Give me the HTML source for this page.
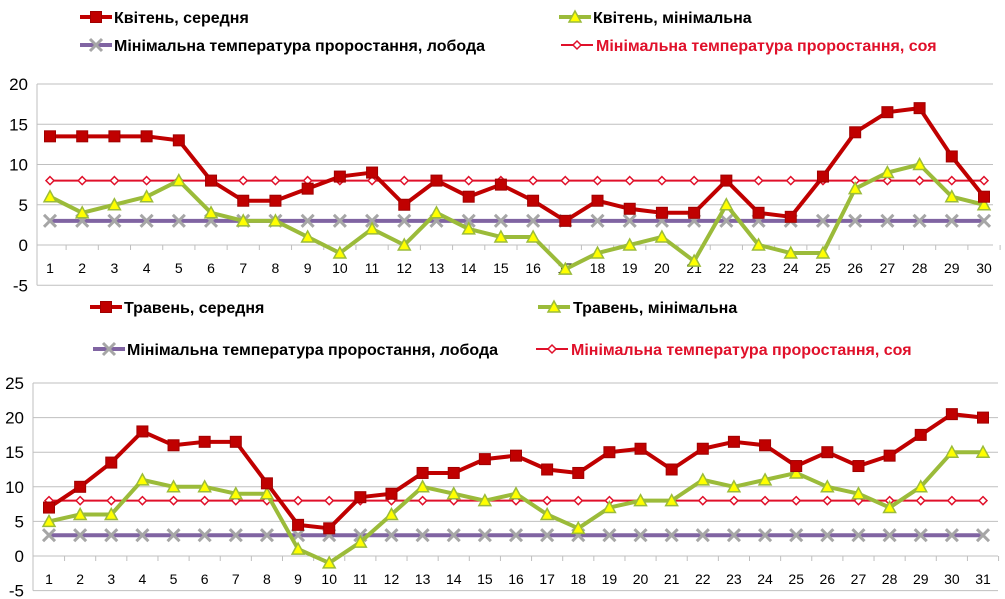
<!DOCTYPE html>
<html><head><meta charset="utf-8">
<style>
html,body{margin:0;padding:0;background:#fff;}
svg{display:block;font-family:"Liberation Sans","DejaVu Sans",sans-serif;}
</style></head>
<body>
<svg id="c" width="1005" height="599" viewBox="0 0 1005 599" xmlns="http://www.w3.org/2000/svg"></svg>
<script>
const aprilDays = Array.from({length:30},(_,i)=>String(i+1));
const aprilAvg = [13.5,13.5,13.5,13.5,13,8,5.5,5.5,7,8.5,9,5,8,6,7.5,5.5,3,5.5,4.5,4,4,8,4,3.5,8.5,14,16.5,17,11,6];
const aprilMin = [6,4,5,6,8,4,3,3,1,-1,2,0,4,2,1,1,-3,-1,0,1,-2,5,0,-1,-1,7,9,10,6,5];
const mayDays = Array.from({length:31},(_,i)=>String(i+1));
const mayAvg = [7,10,13.5,18,16,16.5,16.5,10.5,4.5,4,8.5,9,12,12,14,14.5,12.5,12,15,15.5,12.5,15.5,16.5,16,13,15,13,14.5,17.5,20.5,20];
const mayMin = [5,6,6,11,10,10,9,9,1,-1,2,6,10,9,8,9,6,4,7,8,8,11,10,11,12,10,9,7,10,15,15];
const lobodaTemp = 3;
const soyaTemp = 8;
const aprilTicks = [20,15,10,5,0,-5];
const mayTicks = [25,20,15,10,5,0,-5];

const svg = document.getElementById('c');
const NS = 'http://www.w3.org/2000/svg';
function mk(tag, attrs, parent){
  const e = document.createElementNS(NS, tag);
  for (const k in attrs) e.setAttribute(k, attrs[k]);
  (parent||svg).appendChild(e);
  return e;
}

function marker(g, type, x, y){
  if (type==='square'){
    mk('rect',{x:x-5.5,y:y-5.5,width:11,height:11,fill:'#c00000',stroke:'#a00000','stroke-width':1},g);
  } else if (type==='tri'){
    mk('polygon',{points:`${x},${y-6} ${x+6},${y+5} ${x-6},${y+5}`,fill:'#ffff00',stroke:'#9bbb3a','stroke-width':1.5},g);
  } else if (type==='x'){
    mk('path',{d:`M${x-6} ${y-6}L${x+6} ${y+6}M${x+6} ${y-6}L${x-6} ${y+6}`,stroke:'#a6a6a6','stroke-width':3},g);
  } else if (type==='diamond'){
    mk('polygon',{points:`${x},${y-4} ${x+4},${y} ${x},${y+4} ${x-4},${y}`,fill:'#fff',stroke:'#e0102a','stroke-width':1.5},g);
  }
}

function chart(cfg){
  const {name,cats,avg,min,ticks,yTop,yZero,yPer,x0,x1,left,right,legend} = cfg;
  const g = mk('g',{});
  
  
  const n = cats.length;
  const step = (x1-x0)/(n-1);
  const xs = i => x0 + i*step;
  const ys = v => yZero - v*yPer;
  // gridlines + y labels
  ticks.forEach(t=>{
    const y = ys(t);
    if (t!==ticks[ticks.length-1] || true){
      const gl = mk('line',{x1:left,x2:right,y1:y,y2:y,stroke:'#bfbfbf','stroke-width':1},g);
      
      
    }
    const tl = mk('text',{x:left-9,y:y+6,'text-anchor':'end','font-size':17,fill:'#000'},g);
    
    
    tl.textContent = String(t);
  });
  mk('line',{x1:left,x2:left,y1:ys(ticks[0]),y2:ys(ticks[ticks.length-1]),stroke:'#bfbfbf'},g);
  // x axis ticks at zero
  for (let i=0;i<=n;i++){
    const x = left + (i===0?0:(xs(i-1)+step/2-left));
    const xx = i===0? left : xs(i-1)+step/2;
    mk('line',{x1:xx,x2:xx,y1:ys(0),y2:ys(0)+5,stroke:'#bfbfbf'},g);
  }
  cats.forEach((c,i)=>{
    const t = mk('text',{x:xs(i),y:ys(0)+28,'text-anchor':'middle','font-size':14,fill:'#000'},g);
    
    
    t.textContent = c;
  });
  const series = [
    {vals:cats.map(()=>lobodaTemp),color:'#8064a2',w:4,m:'x',nm:'loboda-line'},
    {vals:cats.map(()=>soyaTemp),color:'#e0102a',w:2,m:'diamond',nm:'soya-line'},
    {vals:min,color:'#9bbb3a',w:4,m:'tri',nm:'min-temp-line'},
    {vals:avg,color:'#c00000',w:4,m:'square',nm:'avg-temp-line'},
  ];
  series.forEach(s=>{
    const sg = mk('g',{},g);
    
    
    const pts = s.vals.map((v,i)=>`${xs(i)},${ys(v)}`).join(' ');
    mk('polyline',{points:pts,fill:'none',stroke:s.color,'stroke-width':s.w,'stroke-linejoin':'round'},sg);
    s.vals.forEach((v,i)=>marker(sg,s.m,xs(i),ys(v)));
  });
  // legend
  legend.forEach(L=>{
    const lg = mk('g',{},g);
    
    
    const col = {square:'#c00000',tri:'#9bbb3a',x:'#8064a2',diamond:'#e0102a'}[L.m];
    mk('line',{x1:L.mx,x2:L.mx+32,y1:L.y,y2:L.y,stroke:col,'stroke-width':L.m==='diamond'?2:4},lg);
    marker(lg,L.m,L.mx+16,L.y);
    const t = mk('text',{x:L.tx,y:L.y+6,'font-size':16,'font-weight':'bold',fill:L.m==='diamond'?'#e0102a':'#000'},lg);
    t.textContent = L.text;
  });
}

chart({name:'april-chart',cats:aprilDays,avg:aprilAvg,min:aprilMin,ticks:aprilTicks,
  yZero:245,yPer:8.05,x0:50,x1:984,left:37,right:993,
  legend:[
    {mx:80,tx:114,y:17,m:'square',text:'Квітень, середня'},
    {mx:559,tx:593,y:17,m:'tri',text:'Квітень, мінімальна'},
    {mx:80,tx:114,y:45,m:'x',text:'Мінімальна температура проростання, лобода'},
    {mx:561,tx:596,y:45,m:'diamond',text:'Мінімальна температура проростання, соя'},
  ]});
chart({name:'may-chart',cats:mayDays,avg:mayAvg,min:mayMin,ticks:mayTicks,
  yZero:556,yPer:6.92,x0:49,x1:983,left:33,right:998,
  legend:[
    {mx:90,tx:124,y:307,m:'square',text:'Травень, середня'},
    {mx:538,tx:573,y:307,m:'tri',text:'Травень, мінімальна'},
    {mx:93,tx:127,y:349,m:'x',text:'Мінімальна температура проростання, лобода'},
    {mx:536,tx:571,y:349,m:'diamond',text:'Мінімальна температура проростання, соя'},
  ]});
</script>
</body></html>
